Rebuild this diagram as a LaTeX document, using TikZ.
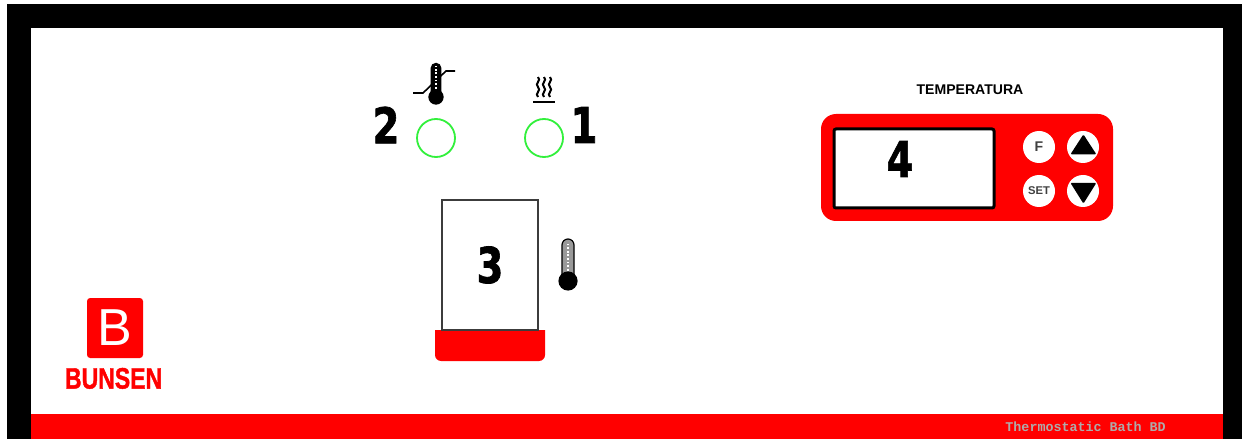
\documentclass[tikz,border=0pt]{standalone}
\usepackage{fontspec}
\setmainfont{Liberation Sans}
\setmonofont{Liberation Mono}
\newfontfamily\digitfont[BoldFeatures={FakeBold=1.6}]{DejaVu Sans}
\newfontfamily\brandfont[BoldFeatures={FakeBold=1.5}]{Liberation Sans}
\usetikzlibrary{calc}
\definecolor{cRd} {RGB}{255,  0,  0}
\definecolor{cLp} {RGB}{ 50,240, 60}
\definecolor{cBx} {RGB}{ 60, 60, 60}
\definecolor{cFt} {RGB}{175,170,170}
\tikzset{
  lamp/.style={
    circle, draw=cLp, fill=white, line width=0.45mm,
    minimum size=9.5mm, inner sep=0pt
  },
  numlab/.style={
    inner sep=0pt, xscale=0.78, text=black,
    font=\digitfont\bfseries\fontsize{35}{35}\selectfont
  },
  keybtn/.style={
    circle, fill=white, minimum size=8mm, inner sep=0pt,
    text=black!75, font=\bfseries\fontsize{8}{8}\selectfont
  },
  pics/thermo/.style={code={
    \draw[fill=#1, line width=0.3mm] (-1.5mm,0) -- (-1.5mm,9mm)
      arc[start angle=180, end angle=0, radius=1.5mm] -- (1.5mm,0) -- cycle;
    \fill[black] (0,0) circle (2.4mm);
    \draw[white, line width=0.7mm, dash pattern=on 0.45mm off 0.45mm]
      (0,2.6mm) -- (0,9.6mm);
  }},
}

\begin{document}
\begin{tikzpicture}

\useasboundingbox (0,0) rectangle (310.5mm,-109.75mm);

%% ── Frame and footer ────────────────────────────────────────────────────────
\fill[black] (1.75mm,-1mm) rectangle (310.5mm,-109.75mm);
\fill[white] (7.75mm,-7mm) rectangle (305.75mm,-103.5mm);
\fill[cRd]   (7.75mm,-103.5mm) rectangle (305.75mm,-109.75mm);
\node[text=cFt, inner sep=0pt, font=\ttfamily\bfseries\fontsize{9.5}{9.5}\selectfont]
  (foot) at (271.4mm,-106.75mm) {Thermostatic Bath BD};

%% ── Indicator lamps ─────────────────────────────────────────────────────────
\node[lamp] (lampL) at (109mm,-34.5mm) {};
\node[lamp] (lampR) at (136mm,-34.5mm) {};
\node[numlab] (numB) at ( 96.5mm,-31.25mm) {2};
\node[numlab] (numA) at (146mm,  -31.25mm) {1};

%% ── Thermostat icon ─────────────────────────────────────────────────────────
\draw[line width=0.4mm] (103.25mm,-23.25mm) -- (105.75mm,-23.25mm)
  -- (111.5mm,-17.75mm) -- (113.75mm,-17.75mm);
\pic[scale=0.8] at (109mm,-24.25mm) {thermo=black};

%% ── Heater icon ─────────────────────────────────────────────────────────────
\foreach \hx in {134.5,136,137.5}{
  \draw[line width=0.5mm] (\hx mm,-19.25mm)
    .. controls (\hx mm+1mm,-20.1mm) and (\hx mm-1mm,-20.9mm) .. (\hx mm,-21.75mm)
    .. controls (\hx mm+1mm,-22.6mm) and (\hx mm-1mm,-23.4mm) .. (\hx mm,-24.25mm);
}
\draw[line width=0.5mm] (133.25mm,-25.4mm) -- (138.75mm,-25.4mm);

%% ── Bath vessel ─────────────────────────────────────────────────────────────
\fill[cRd] (108.75mm,-82.5mm) [rounded corners=1.5mm] -- (108.75mm,-90.25mm)
  -- (136.25mm,-90.25mm) [sharp corners] -- (136.25mm,-82.5mm) -- cycle;
\node[draw=cBx, line width=0.5mm, minimum width=24mm, minimum height=32.5mm,
      inner sep=0pt] (vessel) at (122.5mm,-66.25mm) {};
\node[numlab] (numC) at (122.5mm,-66.25mm) {3};
\pic at (142mm,-70.25mm) {thermo=black!40};

%% ── Controller ──────────────────────────────────────────────────────────────
\node[font=\bfseries\fontsize{10}{10}\selectfont, inner sep=0pt]
  (title) at (242.5mm,-22.5mm) {TEMPERATURA};
\node[fill=cRd, rounded corners=3.75mm, minimum width=73mm, minimum height=26.75mm,
      inner sep=0pt] (panel) at (241.75mm,-41.875mm) {};
\node[draw=black, fill=white, line width=0.75mm, rounded corners=0.5mm,
      minimum width=40mm, minimum height=19.75mm, inner sep=0pt]
  (display) at (228.5mm,-42.125mm) {};
\node[numlab] (numD) at (225mm,-39.75mm) {4};

\node[keybtn, font=\bfseries\fontsize{10}{10}\selectfont] (keyF) at (259.75mm,-36.75mm) {F};
\node[keybtn] (keySet)  at (259.75mm,-47.75mm) {SET};
\node[keybtn] (keyUp)   at (270.75mm,-36.75mm) {};
\node[keybtn] (keyDown) at (270.75mm,-47.75mm) {};
\fill[black, rounded corners=0.3mm] (267.6mm,-38.6mm) -- (274.1mm,-38.6mm)
  -- (270.85mm,-33.6mm) -- cycle;
\fill[black, rounded corners=0.3mm] (267.6mm,-45.7mm) -- (274.1mm,-45.7mm)
  -- (270.85mm,-50.9mm) -- cycle;

%% ── Logo ────────────────────────────────────────────────────────────────────
\node[fill=cRd, rounded corners=0.8mm, minimum width=14mm, minimum height=15mm,
      inner sep=0pt, text=white, font=\fontsize{37}{37}\selectfont]
  (logo) at (28.75mm,-82mm) {B};
\node[text=cRd, inner sep=0pt, xscale=0.78,
      font=\brandfont\bfseries\fontsize{21}{21}\selectfont]
  (brand) at (28.4mm,-94.6mm) {BUNSEN};

\end{tikzpicture}
\end{document}
